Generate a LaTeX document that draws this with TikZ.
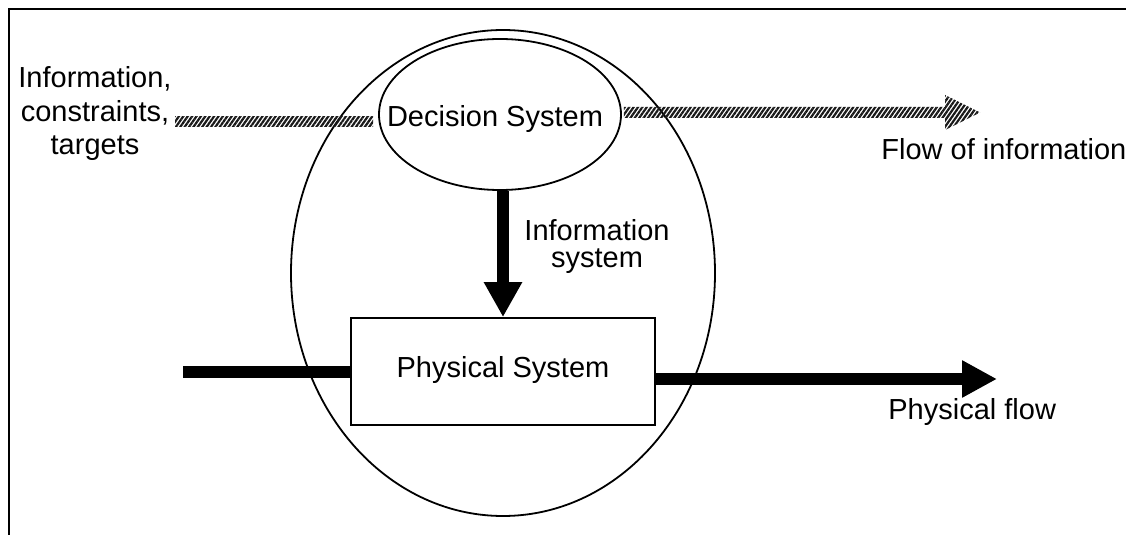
\documentclass[tikz,border=0pt]{standalone}
\usepackage{fontspec}
\setmainfont{Liberation Sans}
\usetikzlibrary{shapes.geometric,arrows.meta,patterns.meta,calc}

\begin{document}
\begin{tikzpicture}[x=0.5pt,y=-0.5pt,
  lbl/.style={font=\fontsize{14.5pt}{16.25pt}\selectfont, inner sep=0pt},
  outline/.style={draw=black, line width=0.9pt},
  hatchfill/.style={pattern={Lines[angle=55,distance=1.8pt,line width=1.1pt]}, pattern color=black!90},
  heavy/.style={line width=6pt},
  heavyarrow/.style={line width=6pt, -{Triangle[length=17.5pt,width=17.5pt]}},
  downarrow/.style={line width=6pt, -{Triangle[length=17.5pt,width=18pt]}}
]
  % canvas
  \useasboundingbox (0,0) rectangle (1126,535);
  \fill[white] (0,0) rectangle (1126,535);

  % frame, open at the right and bottom
  \draw[line width=1pt] (9,540) -- (9,9) -- (1130,9);

  % enclosing system
  \node[ellipse, outline, inner sep=0pt, minimum width=212pt, minimum height=243pt] (sys) at (503,273) {};

  % decision system
  \node[ellipse, outline, fill=white, inner sep=0pt, minimum width=121pt, minimum height=75.5pt] (ds) at (500,114.5) {};
  \node[lbl, anchor=base] (dstext) at (495,127) {Decision System};

  % physical system
  \node[rectangle, outline, fill=white, inner sep=0pt, minimum width=152pt, minimum height=53.5pt] (ps) at (503,371.5) {};
  \node[lbl, anchor=base] (pstext) at (503,378) {Physical System};

  % information flow (hatched)
  \coordinate (infoin) at (175,121.5);
  \coordinate (infoout) at (980,112.5);
  \fill[hatchfill] (infoin) ++(0,-5) -- ($(ds.west |- infoin)+(-5,-5)$) -- ($(ds.west |- infoin)+(-5,5)$) -- ($(infoin)+(0,5)$) -- cycle;
  \fill[hatchfill] ($(ds.east |- infoout)+(2,-5.5)$) -- ($(infoout)+(-35,-5.5)$) -- ($(infoout)+(-35,-17.5)$) -- (infoout)
     -- ($(infoout)+(-35,17.5)$) -- ($(infoout)+(-35,5.5)$) -- ($(ds.east |- infoout)+(2,5.5)$) -- cycle;

  % information system: decision -> physical
  \draw[downarrow] (ds.south -| ps.north) -- (ps.north);

  % physical flow
  \coordinate (physin) at (183,371.5);
  \coordinate (physout) at (997,379);
  \draw[heavy] (physin) -- (ps.west);
  \draw[heavyarrow] (ps.east |- physout) -- (physout);

  % labels (base anchor sits on the last line)
  \node[lbl, align=center, anchor=base, font=\fontsize{14.5pt}{16.75pt}\selectfont] (inlbl) at (95,155)
    {Information,\\constraints,\\targets};
  \node[lbl, anchor=base west] (flowlbl) at (881,160) {Flow of information};
  \node[lbl, align=center, anchor=base, font=\fontsize{14.5pt}{13.5pt}\selectfont] (islbl) at (597,268)
    {Information\\system};
  \node[lbl, anchor=base west] (pflbl) at (888,419) {Physical flow};
\end{tikzpicture}
\end{document}
